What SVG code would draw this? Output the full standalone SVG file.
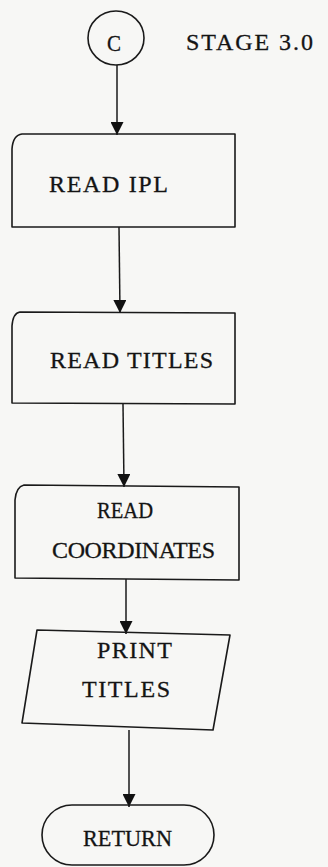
<svg xmlns="http://www.w3.org/2000/svg" width="328" height="867" viewBox="0 0 328 867">
<style>
.bg{fill:#f7f7f5}
.shape{fill:none;stroke:#1a1a1a;stroke-width:1.6;stroke-linejoin:round}
.conn{fill:none;stroke:#1a1a1a;stroke-width:1.5}
.txt{font-family:"Liberation Serif","Times New Roman",serif;font-size:24px;fill:#141414;stroke:#141414;stroke-width:0.3}
</style>
<defs>
<marker id="arrow" viewBox="0 0 13 13" refX="13" refY="6.5" markerWidth="13" markerHeight="13" markerUnits="userSpaceOnUse" orient="auto">
<path d="M0,0 L13,6.5 L0,13 Z" fill="#111"/>
</marker>
</defs>
<rect class="bg" x="0" y="0" width="328" height="867"/>
<g id="connectors">
<line class="conn" x1="117" y1="65" x2="117" y2="135" marker-end="url(#arrow)"/>
<line class="conn" x1="119" y1="227" x2="120" y2="313" marker-end="url(#arrow)"/>
<line class="conn" x1="123" y1="404" x2="124" y2="487" marker-end="url(#arrow)"/>
<line class="conn" x1="126" y1="579" x2="126" y2="634" marker-end="url(#arrow)"/>
<line class="conn" x1="129" y1="730" x2="129" y2="807" marker-end="url(#arrow)"/>
</g>
<g id="start">
<ellipse class="shape" cx="116" cy="38" rx="28" ry="27"/>
<text class="txt" x="107" y="51" textLength="14" lengthAdjust="spacingAndGlyphs">C</text>
</g>
<g id="stage-label">
<text class="txt" x="186" y="50" textLength="127" lengthAdjust="spacing">STAGE 3.0</text>
</g>
<g id="read-ipl">
<path class="shape" d="M12,149 Q13,135 22,134 L235,134 L235,227 L12,227 Z"/>
<text class="txt" x="49" y="192" textLength="119" lengthAdjust="spacing">READ IPL</text>
</g>
<g id="read-titles">
<path class="shape" d="M12,326 Q13,313 20,312 L235,313 L235,404 L12,403 Z"/>
<text class="txt" x="50" y="368" textLength="163" lengthAdjust="spacing">READ TITLES</text>
</g>
<g id="read-coordinates">
<path class="shape" d="M15,500 Q16,487 24,485 L239,487 L239,580 L15,578 Z"/>
<text class="txt" x="97" y="518" textLength="56" lengthAdjust="spacingAndGlyphs">READ</text>
<text class="txt" x="52" y="558" textLength="163" lengthAdjust="spacing">COORDINATES</text>
</g>
<g id="print-titles">
<path class="shape" d="M37,630 L230,635 L213,730 L22,723 Z"/>
<text class="txt" x="97" y="658" textLength="75" lengthAdjust="spacing">PRINT</text>
<text class="txt" x="82" y="697" textLength="88" lengthAdjust="spacing">TITLES</text>
</g>
<g id="return">
<rect class="shape" x="42" y="805" width="172" height="60" rx="30" ry="30"/>
<text class="txt" x="83" y="846" textLength="89" lengthAdjust="spacingAndGlyphs">RETURN</text>
</g>
</svg>
